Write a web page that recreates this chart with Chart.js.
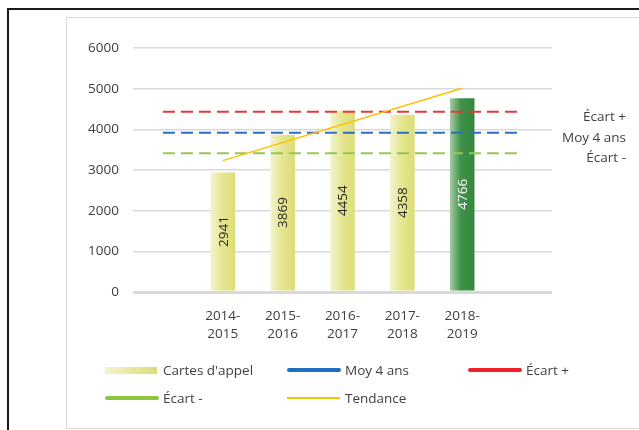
<!DOCTYPE html>
<html>
<head>
<meta charset="utf-8">
<script src="https://cdn.jsdelivr.net/npm/chart.js@4/dist/chart.umd.min.js"></script>
<style>
    body { margin: 0; background: #fff; font-family: 'Open Sans', sans-serif; }
    #wrap { position: relative; width: 639px; height: 430px; overflow: hidden; }
    #frameOuter { position: absolute; left: 7px; top: 8px; width: 700px; height: 500px; border-left: 2px solid #1a1a1a; border-top: 2px solid #1a1a1a; }
    #frameInner { position: absolute; left: 66px; top: 17px; width: 700px; height: 410px; border: 1px solid #d9d9d9; }
    canvas { position: absolute; left: 0; top: 0; }
    .lg { position: absolute; font-size: 13.5px; color: #404040; line-height: 18px; white-space: nowrap; }
    .sw { position: absolute; }
</style>
</head>
<body>
<div id="wrap">
    <div id="frameOuter"></div>
    <div id="frameInner"></div>
    <canvas id="chart" width="639" height="430"></canvas>
    <div id="legend"></div>
</div>
<script>
// --- Data ---
const categories = ['', ['2014-', '2015'], ['2015-', '2016'], ['2016-', '2017'], ['2017-', '2018'], ['2018-', '2019'], ''];
const cartesAppel = [null, 2941, 3869, 4454, 4358, 4766, null];
const moy4ans = [3915, 3915, 3915, 3915, 3915, 3915, 3915];
const ecartPlus = [4430, 4430, 4430, 4430, 4430, 4430, 4430];
const ecartMoins = [3410, 3410, 3410, 3410, 3410, 3410, 3410];
const tendance = [null, 3230, null, null, null, 5010, null];
const yTicks = [0, 1000, 2000, 3000, 4000, 5000, 6000];

const TEXT = '#404040';
const FONT = "'Open Sans', sans-serif";

// horizontal gradient per bar (last one is dark green)
function barFill(c) {
    const chart = c.chart;
    const xs = chart.scales.x;
    if (c.type !== 'data' || !xs || !chart.chartArea) return '#dfe07a';
    const cx = xs.getPixelForValue(c.dataIndex);
    const g = chart.ctx.createLinearGradient(cx - 12.5, 0, cx + 12.5, 0);
    if (c.dataIndex === 5) {
        g.addColorStop(0, '#a9cda9');
        g.addColorStop(0.45, '#3e9147');
        g.addColorStop(1, '#35883e');
    } else {
        g.addColorStop(0, '#f3f3d2');
        g.addColorStop(0.5, '#e4e58e');
        g.addColorStop(1, '#dcdd76');
    }
    return g;
}

// rotated values inside the bars + labels at the right of the dashed lines
const labelPlugin = {
    id: 'labelPlugin',
    afterDatasetsDraw(chart) {
        const ctx = chart.ctx;
        ctx.save();
        ctx.font = '13.5px ' + FONT;
        chart.data.datasets.forEach((ds, i) => {
            const meta = chart.getDatasetMeta(i);
            if (ds.type === 'bar') {
                meta.data.forEach((el, j) => {
                    if (ds.data[j] == null) return;
                    ctx.save();
                    ctx.translate(el.x, (el.y + el.base) / 2);
                    ctx.rotate(-Math.PI / 2);
                    ctx.textAlign = 'center';
                    ctx.textBaseline = 'middle';
                    ctx.fillStyle = j === 5 ? '#ffffff' : '#262626';
                    ctx.fillText(ds.data[j], 0, 1);
                    ctx.restore();
                });
            } else if (ds.endLabel) {
                const last = meta.data[meta.data.length - 1];
                ctx.textAlign = 'right';
                ctx.textBaseline = 'middle';
                ctx.fillStyle = TEXT;
                ctx.fillText(ds.endLabel, 626, last.y + 5);
            }
        });
        ctx.restore();
    }
};

new Chart(document.getElementById('chart'), {
    type: 'bar',
    data: {
        labels: categories,
        datasets: [
            {
                type: 'bar',
                label: "Cartes d'appel",
                data: cartesAppel,
                backgroundColor: barFill,
                categoryPercentage: 1,
                barPercentage: 0.41,
                order: 2
            },
            {
                type: 'line',
                label: 'Moy 4 ans',
                endLabel: 'Moy 4 ans',
                data: moy4ans,
                borderColor: '#2e6fc0',
                borderWidth: 2,
                borderDash: [12, 6],
                pointRadius: 0,
                order: 1
            },
            {
                type: 'line',
                label: 'Écart +',
                endLabel: 'Écart +',
                data: ecartPlus,
                borderColor: '#e8383b',
                borderWidth: 2,
                borderDash: [12, 6],
                pointRadius: 0,
                order: 1
            },
            {
                type: 'line',
                label: 'Écart -',
                endLabel: 'Écart -',
                data: ecartMoins,
                borderColor: '#92c956',
                borderWidth: 2,
                borderDash: [12, 6],
                pointRadius: 0,
                order: 1
            },
            {
                type: 'line',
                label: 'Tendance',
                data: tendance,
                borderColor: '#ffc000',
                borderWidth: 1.5,
                pointRadius: 0,
                spanGaps: true,
                order: 0
            }
        ]
    },
    options: {
        responsive: false,
        animation: false,
        layout: { padding: { left: 0, right: 87, top: 48, bottom: 0 } },
        plugins: { legend: { display: false }, tooltip: { enabled: false } },
        scales: {
            x: {
                offset: true,
                grid: { display: false },
                border: { display: false },
                ticks: {
                    autoSkip: false, maxRotation: 0, padding: 7,
                    color: TEXT, font: { family: FONT, size: 13.5, lineHeight: 1.35 }
                },
                afterFit: (s) => { s.height = 138; }
            },
            y: {
                min: 0, max: 6000,
                afterBuildTicks: (s) => { s.ticks = yTicks.map(v => ({ value: v })); },
                grid: {
                    color: '#d9d9d9',
                    lineWidth: (c) => (c.tick && c.tick.value === 0 ? 3 : 1.5),
                    drawTicks: false
                },
                border: { display: false },
                ticks: {
                    padding: 14, color: TEXT, font: { family: FONT, size: 13.5 },
                    callback: (v) => String(v)
                },
                afterFit: (s) => { s.width = 133; }
            }
        }
    },
    plugins: [labelPlugin]
});

// --- Legend (two rows, fixed columns like the original) ---
const legendItems = [
    { text: "Cartes d'appel", x: 105, y: 370, sw: 'background:linear-gradient(to right,#f3f3d2,#dcdd76);height:7px;width:52px;' },
    { text: 'Moy 4 ans', x: 287, y: 370, sw: 'background:#1f6fc0;height:4px;width:54px;border-radius:2px;' },
    { text: 'Écart +', x: 468, y: 370, sw: 'background:#ee2027;height:4px;width:54px;border-radius:2px;' },
    { text: 'Écart -', x: 105, y: 398, sw: 'background:#8cc63f;height:4px;width:54px;border-radius:2px;' },
    { text: 'Tendance', x: 287, y: 398, sw: 'background:#ffc000;height:1.5px;width:53px;' }
];
const legend = document.getElementById('legend');
legendItems.forEach(item => {
    const sw = document.createElement('div');
    sw.className = 'sw';
    sw.style.cssText = item.sw + 'left:' + item.x + 'px;';
    legend.appendChild(sw);
    const h = parseFloat(sw.style.height);
    sw.style.top = (item.y - h / 2) + 'px';
    const t = document.createElement('div');
    t.className = 'lg';
    t.textContent = item.text;
    t.style.left = (item.x + 58) + 'px';
    t.style.top = (item.y - 9) + 'px';
    legend.appendChild(t);
});
</script>
</body>
</html>
